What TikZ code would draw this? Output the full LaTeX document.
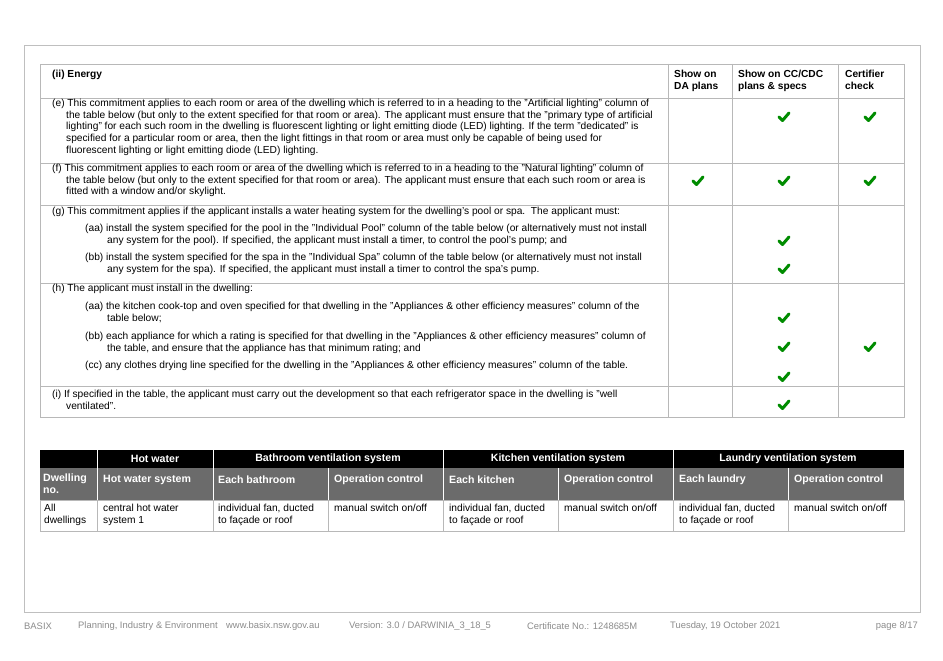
\documentclass[tikz,border=0pt]{standalone}
\usepackage{fontspec}
\setmainfont{Liberation Sans}
\begin{document}
\begin{tikzpicture}[x=1pt,y=-1pt,
  grid/.style={draw=black!28,line width=0.7pt},
  txt/.style={anchor=north west,inner sep=0pt,align=left,font=\fontsize{10.2}{11.7}\selectfont},
  hd/.style={txt,font=\fontsize{10.2}{11.5}\selectfont\bfseries},
  wh/.style={anchor=west,inner sep=0pt,text=white,font=\fontsize{10.6}{11.5}\selectfont\bfseries},
  ct/.style={anchor=center,inner sep=0pt,text=white,font=\fontsize{10.6}{11.5}\selectfont\bfseries},
  foot/.style={anchor=west,inner sep=0pt,text=black!45,font=\fontsize{9.4}{10}\selectfont},
  chk/.style={draw=green!55!black,line width=3pt,line cap=round,line join=round}]
\useasboundingbox (0,0) rectangle (943,661);
\fill[white] (0,0) rectangle (943,661);
\draw[black!25,line width=0.6pt] (24,45) rectangle (920,612);
% top table
\draw[grid] (40,64) rectangle (904,417);
\foreach \y in {98,163,205,283,386} \draw[grid] (40,\y) -- (904,\y);
\foreach \x in {668,732,838} \draw[grid] (\x,64) -- (\x,417);
\node[hd] (h0) at (52,70) {(ii) Energy};
\node[hd] (h1) at (674,70) {Show on\\DA plans};
\node[hd] (h2) at (738,70) {Show on CC/CDC\\plans \& specs};
\node[hd] (h3) at (845,70) {Certifier\\check};
\node[txt] (e) at (52,99) {(e) This commitment applies to each room or area of the dwelling which is referred to in a heading to the "Artificial lighting" column of\\
\hspace*{14pt}the table below (but only to the extent specified for that room or area). The applicant must ensure that the "primary type of artificial\\
\hspace*{14pt}lighting" for each such room in the dwelling is fluorescent lighting or light emitting diode (LED) lighting. If the term "dedicated" is\\
\hspace*{14pt}specified for a particular room or area, then the light fittings in that room or area must only be capable of being used for\\
\hspace*{14pt}fluorescent lighting or light emitting diode (LED) lighting.};
\node[txt] (f) at (52,164) {(f) This commitment applies to each room or area of the dwelling which is referred to in a heading to the "Natural lighting" column of\\
\hspace*{14pt}the table below (but only to the extent specified for that room or area). The applicant must ensure that each such room or area is\\
\hspace*{14pt}fitted with a window and/or skylight.};
\node[txt] (g) at (52,207) {(g) This commitment applies if the applicant installs a water heating system for the dwelling's pool or spa.\ \ The applicant must:};
\node[txt] (gaa) at (85,224) {(aa) install the system specified for the pool in the "Individual Pool" column of the table below (or alternatively must not install\\
\hspace*{22pt}any system for the pool). If specified, the applicant must install a timer, to control the pool's pump; and};
\node[txt] (gbb) at (85,253) {(bb) install the system specified for the spa in the "Individual Spa" column of the table below (or alternatively must not install\\
\hspace*{22pt}any system for the spa). If specified, the applicant must install a timer to control the spa's pump.};
\node[txt] (h) at (52,284) {(h) The applicant must install in the dwelling:};
\node[txt] (haa) at (85,302) {(aa) the kitchen cook-top and oven specified for that dwelling in the "Appliances \& other efficiency measures" column of the\\
\hspace*{22pt}table below;};
\node[txt] (hbb) at (85,332) {(bb) each appliance for which a rating is specified for that dwelling in the "Appliances \& other efficiency measures" column of\\
\hspace*{22pt}the table, and ensure that the appliance has that minimum rating; and};
\node[txt] (hcc) at (85,361) {(cc) any clothes drying line specified for the dwelling in the "Appliances \& other efficiency measures" column of the table.};
\node[txt] (i) at (52,390) {(i) If specified in the table, the applicant must carry out the development so that each refrigerator space in the dwelling is "well\\
\hspace*{14pt}ventilated".};
% checks
\foreach \x/\y in {784/117,870/117,698/181,784/181,870/181,784/241,784/269,784/318,784/347,870/347,784/377,784/405}
  \draw[chk] (\x-5,\y) -- (\x-1.5,\y+3.5) -- (\x+5,\y-4);
% bottom table
\fill[black] (40,450) rectangle (904,468);
\fill[black!58] (40,468) rectangle (904,500);
\draw[grid] (40,500) rectangle (904,531);
\foreach \x in {97,213,443,673} \draw[white,line width=0.8pt] (\x,450) -- (\x,500);
\foreach \x in {328,558,788} \draw[white,line width=0.8pt] (\x,468) -- (\x,500);
\foreach \x in {97,213,328,443,558,673,788} \draw[grid] (\x,500) -- (\x,531);
\node[ct] (t1) at (155,459) {Hot water};
\node[ct] (t2) at (328,459) {Bathroom ventilation system};
\node[ct] (t3) at (558,459) {Kitchen ventilation system};
\node[ct] (t4) at (788,459) {Laundry ventilation system};
\node[wh,anchor=north west,align=left] (s0) at (43,474) {Dwelling\\no.};
\foreach \x/\t [count=\k] in {103/Hot water system,218/Each bathroom,334/Operation control,449/Each kitchen,564/Operation control,679/Each laundry,794/Operation control}
  \node[wh] (s\k) at (\x,479.5) {\t};
\node[txt] (d0) at (44,504) {All\\dwellings};
\node[txt] (d1) at (103,504) {central hot water\\system 1};
\node[txt] (d2) at (218,504) {individual fan, ducted\\to façade or roof};
\node[txt] (d3) at (334,504) {manual switch on/off};
\node[txt] (d4) at (449,504) {individual fan, ducted\\to façade or roof};
\node[txt] (d5) at (564,504) {manual switch on/off};
\node[txt] (d6) at (679,504) {individual fan, ducted\\to façade or roof};
\node[txt] (d7) at (794,504) {manual switch on/off};
% footer
\node[foot] (f1) at (24,626) {BASIX};
\node[foot] (f2) at (78,626) {Planning, Industry \& Environment};
\node[foot] (f3) at (226,626) {www.basix.nsw.gov.au};
\node[foot] (f4) at (349,626) {Version: 3.0 / DARWINIA\_3\_18\_5};
\node[foot] (f5) at (527,626) {Certificate No.: 1248685M};
\node[foot] (f6) at (670,626) {Tuesday, 19 October 2021};
\node[foot,anchor=east] (f7) at (918,626) {page 8/17};
\end{tikzpicture}
\end{document}
